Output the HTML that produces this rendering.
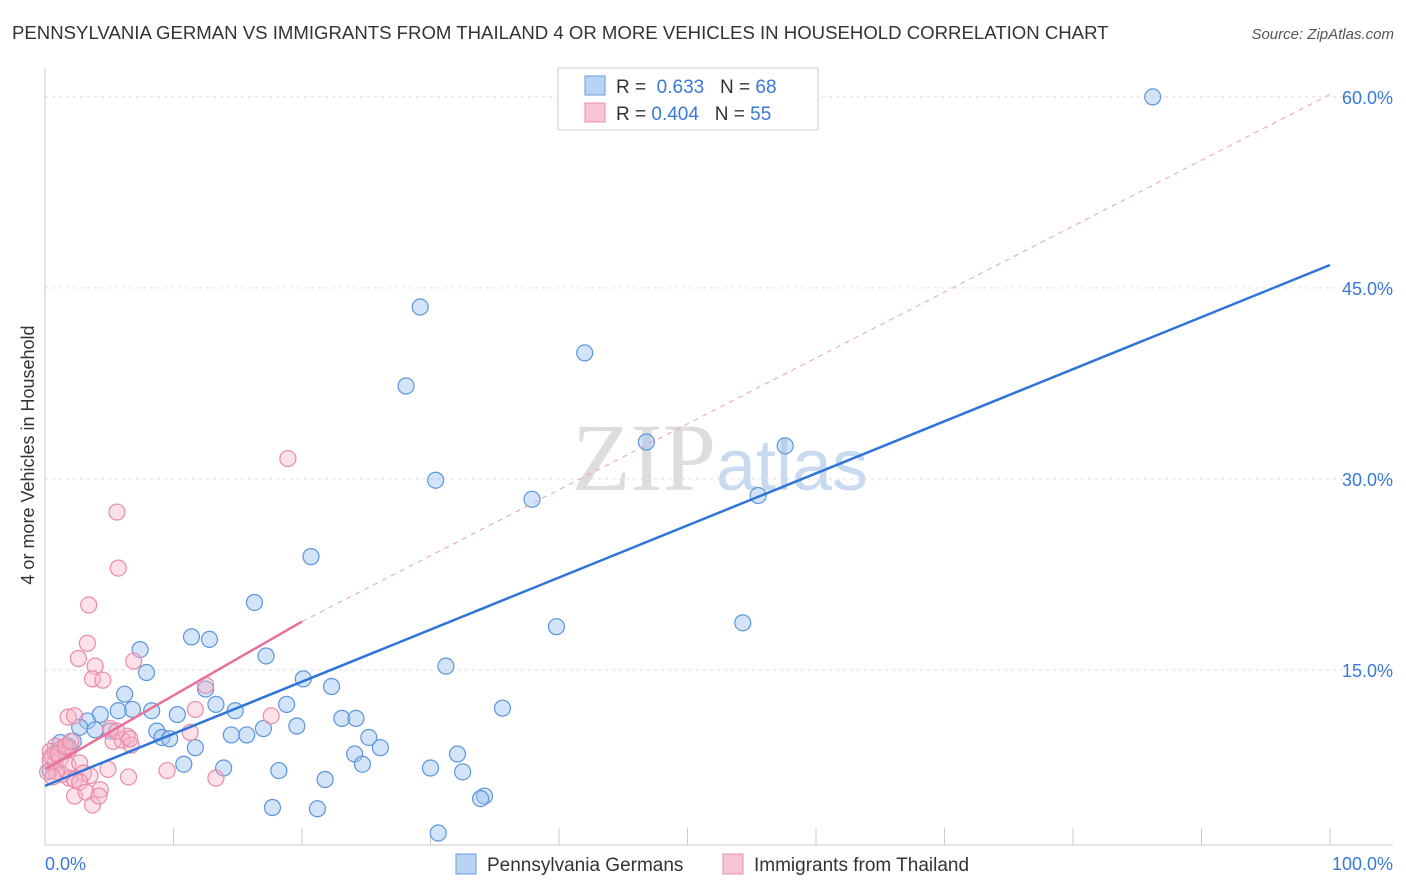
<!DOCTYPE html>
<html><head><meta charset="utf-8"><style>
body{margin:0;background:#fff;font-family:"Liberation Sans",sans-serif;}
svg{display:block}
</style></head><body>
<svg id="c" width="1406" height="892" xmlns="http://www.w3.org/2000/svg">
<text x="12" y="39" font-size="18.6" fill="#333">PENNSYLVANIA GERMAN VS IMMIGRANTS FROM THAILAND 4 OR MORE VEHICLES IN HOUSEHOLD CORRELATION CHART</text>
<text x="1394" y="39" font-size="15" fill="#555" font-style="italic" text-anchor="end">Source: ZipAtlas.com</text>
<text x="720" y="490" font-size="96" fill="#ddd" text-anchor="middle" font-family="Liberation Serif,serif">ZIP<tspan fill="#c8daf0" font-family="Liberation Sans,sans-serif" font-size="72">atlas</tspan></text>
<text transform="translate(34,455) rotate(-90)" font-size="18" fill="#333" text-anchor="middle">4 or more Vehicles in Household</text>
<g id="grid"></g><g id="marks"></g>
<g>
<rect x="558" y="68" width="260" height="62" fill="#fff" stroke="#ccc"/>
<rect x="585" y="76" width="20" height="19" fill="#b9d3f2" stroke="#6a9de0"/>
<rect x="585" y="103" width="20" height="19" fill="#f8c4d4" stroke="#e890aa"/>
<text x="616" y="93" font-size="19" fill="#333">R = <tspan fill="#3a78d8">&#160;0.633</tspan>&#160;&#160;&#160;N = <tspan fill="#3a78d8">68</tspan></text>
<text x="616" y="120" font-size="19" fill="#333">R = <tspan fill="#3a78d8">0.404</tspan>&#160;&#160;&#160;N = <tspan fill="#3a78d8">55</tspan></text>
</g>
<g>
<rect x="456" y="854" width="20" height="20" fill="#b9d3f2" stroke="#6a9de0"/>
<text x="487" y="871" font-size="19" fill="#333">Pennsylvania Germans</text>
<rect x="723" y="854" width="20" height="20" fill="#f8c4d4" stroke="#e890aa"/>
<text x="754" y="871" font-size="19" fill="#333">Immigrants from Thailand</text>
</g>
<text x="45" y="870" font-size="18" fill="#3a78d8">0.0%</text>
<text x="1393" y="870" font-size="18" fill="#3a78d8" text-anchor="end">100.0%</text>
</svg>
<script>
const yTicks=[15,30,45,60];
const blueX=[86.2,29.2,42,28.1,46.8,57.6,30.4,37.9,55.5,20.7,16.3,39.8,54.3,11.4,12.8,7.4,17.2,7.9,31.2,20.1,22.3,6.2,12.5,18.8,35.6,6.8,5.7,8.3,14.8,13.3,10.3,4.3,23.1,24.2,17,19.6,3.3,2.7,3.9,5.1,8.7,25.2,9.1,9.7,14.5,15.7,11.7,26.1,2.2,32.1,24.1,24.7,10.8,13.9,30,18.2,32.5,21.8,34.2,33.9,17.7,21.2,30.6,1.5,0.8,0.4,1.2,1.8];
const blueY=[60,43.5,39.9,37.3,32.9,32.6,29.9,28.4,28.7,23.9,20.3,18.4,18.7,17.6,17.4,16.6,16.1,14.8,15.3,14.3,13.7,13.1,13.5,12.3,12,11.9,11.8,11.8,11.8,12.3,11.5,11.5,11.2,11.2,10.4,10.6,11,10.5,10.3,10.2,10.2,9.7,9.7,9.6,9.9,9.9,8.9,8.9,9.4,8.4,8.4,7.6,7.6,7.3,7.3,7.1,7,6.4,5.1,4.9,4.2,4.1,2.2,8.6,8.5,7.1,9.3,9];
const pinkX=[18.9,5.6,5.7,3.4,3.3,2.6,6.9,3.9,3.7,4.5,12.5,11.7,17.6,1.8,2.3,11.3,6.4,5.3,6,6.7,6.6,5.1,5.6,0.8,0.4,1.2,1.6,1.9,0.4,0.8,1.2,1.8,2.7,4.9,9.5,3,3.5,1.9,2.3,2.7,6.5,13.3,4.3,2.3,3.2,3.7,4.2,1.3,0.9,0.5,1,1.6,2,0.2,0.6];
const pinkY=[31.6,27.4,23,20.1,17.1,15.9,15.7,15.3,14.3,14.2,13.8,11.9,11.4,11.3,11.4,10.1,9.8,9.4,9.5,9.1,9.6,10.4,10.2,9,8.6,8.8,9,8.8,7.9,7.7,8,7.5,7.7,7.2,7.1,6.9,6.7,6.5,6.4,6.2,6.6,6.5,5.6,5.1,5.4,4.4,5.1,6.8,7,8.2,8.4,9,9.4,7,6.6];
const x=v=>45+v*12.85, y=v=>861-v*12.735;
const ns="http://www.w3.org/2000/svg";
function mk(t,a,p){const e=document.createElementNS(ns,t);for(const k in a)e.setAttribute(k,a[k]);p.appendChild(e);return e;}
const g=document.getElementById('grid'), m=document.getElementById('marks');
yTicks.forEach(t=>{
 const l=mk('line',{x1:45,x2:1393,y1:y(t),y2:y(t),stroke:'#ddd','stroke-dasharray':'3,4'},g);
 
 
 const tx=mk('text',{x:1393,y:y(t)+7,'font-size':18,fill:'#3a78d8','text-anchor':'end'},g);
 tx.textContent=t.toFixed(1)+'%';
 
 
});
mk('line',{x1:45,x2:45,y1:68,y2:845,stroke:'#ccc'},g);
mk('line',{x1:45,x2:1393,y1:845,y2:845,stroke:'#ccc'},g);
for(let i=0;i<=10;i++){mk('line',{x1:x(i*10),x2:x(i*10),y1:828,y2:845,stroke:'#ccc'},g);}
blueX.forEach((v,i)=>{
 const c=mk('circle',{cx:x(v),cy:y(blueY[i]),r:8,fill:'rgba(160,196,240,0.45)',stroke:'#5b95dc','stroke-width':1.2},m);
 
 
});
pinkX.forEach((v,i)=>{
 const c=mk('circle',{cx:x(v),cy:y(pinkY[i]),r:8,fill:'rgba(248,180,200,0.4)',stroke:'#ea8aa8','stroke-width':1.2},m);
 
 
});
const pd=mk('line',{x1:x(20),y1:y(18.8),x2:x(100),y2:y(60.2),stroke:'#e8a0b4','stroke-dasharray':'5,5','stroke-width':1},m);


const pl=mk('line',{x1:x(0),y1:y(7.2),x2:x(20),y2:y(18.8),stroke:'#e8709a','stroke-width':2.5},m);


const bl=mk('line',{x1:x(0),y1:y(5.9),x2:x(100),y2:y(46.8),stroke:'#2f74d8','stroke-width':2.5},m);


</script>
</body></html>
